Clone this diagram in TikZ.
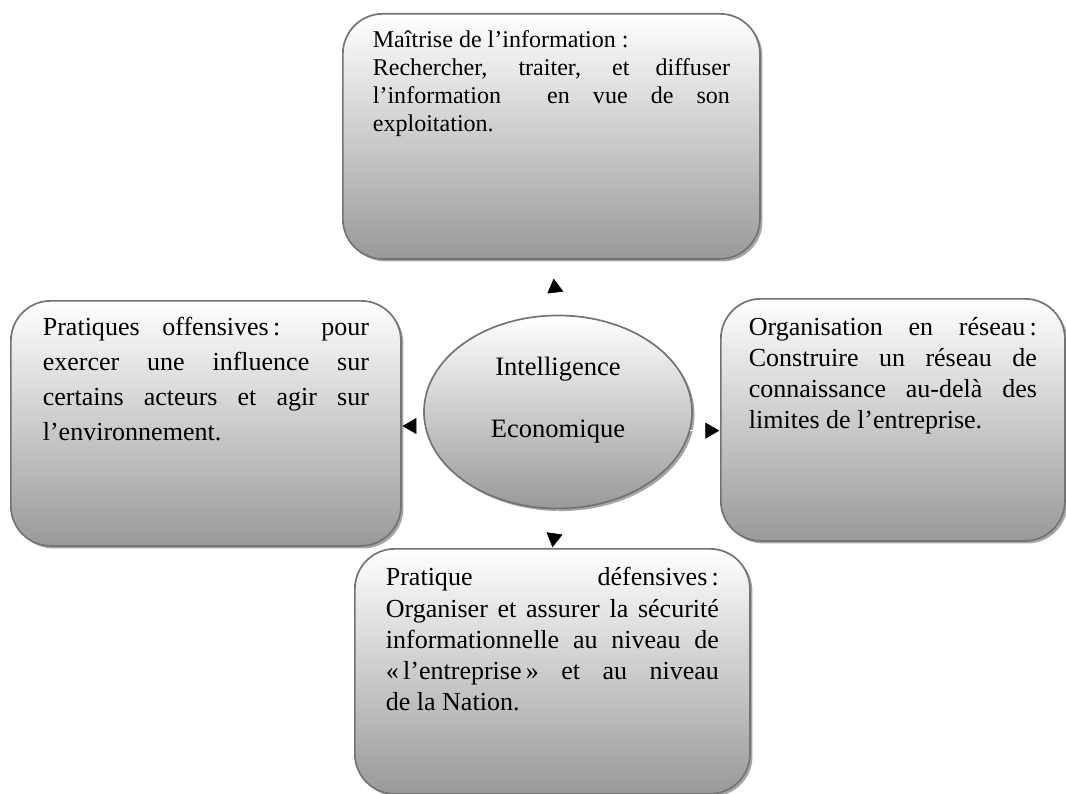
\documentclass[tikz,border=0pt]{standalone}
\usepackage{fontspec}
\setmainfont{Liberation Serif}
\usepackage{tikz}
\usetikzlibrary{shapes.geometric, arrows.meta, shadows}
\tikzset{
    card/.style = {rectangle, rounded corners=1cm, draw=black!55, line width=1.2pt, top color=white, bottom color=black!40, anchor=north west, inner ysep=0pt, align=justify, drop shadow={shadow xshift=1.8pt, shadow yshift=-1.8pt, fill=black!35, opacity=1}},
    hub/.style = {ellipse, draw=black!55, line width=1.2pt, top color=white, bottom color=black!40, inner sep=0pt, minimum width=6.7cm, minimum height=4.825cm, text width=3.5cm, align=center, text height=0.35cm, text depth=2.15cm, font=\fontsize{18.9}{43.4}\selectfont, drop shadow={shadow xshift=1.8pt, shadow yshift=-1.8pt, fill=black!35, opacity=1}},
    link/.style = {draw=white, shorten >=0.5pt, -{Triangle[length=0.35cm, width=0.4cm, color=black, fill=black]}}
}
\begin{document}
\begin{tikzpicture}[x=0.025cm, y=-0.025cm]
        \useasboundingbox (0,0) rectangle (1066,794);

        % Centre
        \node (ie) [hub] at (558,412) {Intelligence\\Economique};

        % Maitrise de l'information
        \node (info) [card, text width=8.925cm, inner xsep=0.75cm, text height=0.85cm, text depth=5.275cm, font=\fontsize{17.1}{19.9}\selectfont] at (342,13)
            {Maîtrise de l’information~:\\Rechercher, traiter, et diffuser\linebreak l’information \ en vue de son\linebreak exploitation.};

        % Pratiques offensives
        \node (offense) [card, text width=8.15cm, inner xsep=0.8cm, text height=0.875cm, text depth=5.25cm, font=\fontsize{18.5}{24.9}\selectfont] at (10,300)
            {Pratiques offensives\,: pour\linebreak exercer une influence sur\linebreak certains acteurs et agir sur\linebreak l’environnement.};

        % Organisation en reseau
        \node (net) [card, text width=7.2cm, inner xsep=0.7cm, text height=0.925cm, text depth=5.125cm, font=\fontsize{18.5}{22}\selectfont] at (720,298)
            {Organisation en réseau\,:\linebreak Construire un réseau de\linebreak connaissance au-delà des\linebreak limites de l’entreprise.};

        % Pratique defensives
        \node (defense) [card, text width=8.325cm, inner xsep=0.775cm, text height=0.925cm, text depth=5.2cm, font=\fontsize{18.5}{22.2}\selectfont] at (354,548)
            {Pratique défensives\,:\linebreak Organiser et assurer la sécurité\linebreak informationnelle au niveau de\linebreak «\,l’entreprise\,» et au niveau\linebreak de la Nation.};

        % Arrows
        \draw [link, shorten >=0.475cm] (ie.north) -- (info.south);
        \draw [link] (ie.186) -- (offense.east |- ie.186);
        \draw [link] (ie.352) -- (net.west |- ie.352);
        \draw [link] (ie.south) -- (defense.north);

    \end{tikzpicture}
\end{document}
